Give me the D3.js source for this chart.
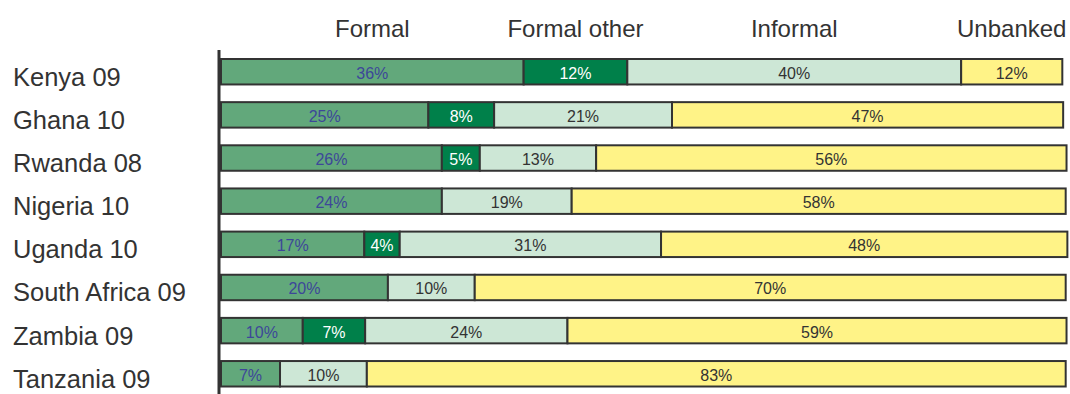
<!DOCTYPE html>
<html>
<head>
<meta charset="utf-8">
<script src="https://cdn.jsdelivr.net/npm/d3@7"></script>
<style>
  body { margin: 0; background: #fff; }
  svg { display: block; font-family: "Liberation Sans", Arial, sans-serif; }
</style>
</head>
<body>
<div id="chart"></div>
<script>
// rows, top to bottom
var countries = ["Kenya 09", "Ghana 10", "Rwanda 08", "Nigeria 10", "Uganda 10",
                 "South Africa 09", "Zambia 09", "Tanzania 09"];
var seriesNames = ["Formal", "Formal other", "Informal", "Unbanked"];

// bar lengths (% of the full bar)
var formal      = [35.9, 24.6, 26.2, 26.2, 17.0, 19.8, 9.7, 7.0];
var formalOther = [12.3, 7.8, 4.5, 0, 4.2, 0, 7.4, 0];
var informal    = [39.6, 21.1, 13.8, 15.4, 31.0, 10.3, 24.0, 10.3];
var unbanked    = [12.0, 46.4, 55.8, 58.6, 48.2, 70.1, 59.2, 82.9];

// the printed labels
var formalLbl      = ["36%", "25%", "26%", "24%", "17%", "20%", "10%", "7%"];
var formalOtherLbl = ["12%", "8%", "5%", "", "4%", "", "7%", ""];
var informalLbl    = ["40%", "21%", "13%", "19%", "31%", "10%", "24%", "10%"];
var unbankedLbl    = ["12%", "47%", "56%", "58%", "48%", "70%", "59%", "83%"];

var fills = ["#62a87b", "#00804a", "#cde7d6", "#fff387"];
var labelColors = ["#3d4799", "#ffffff", "#333333", "#333333"];

var svgWidth = 1070, svgHeight = 394;

var svg = d3.select("#chart").append("svg")
  .attr("width", svgWidth)
  .attr("height", svgHeight);

var values = [formal, formalOther, informal, unbanked];
var labels = [formalLbl, formalOtherLbl, informalLbl, unbankedLbl];

var data = countries.map(function(c, i) {
  var row = { country: c };
  seriesNames.forEach(function(s, k) { row[s] = values[k][i]; });
  return row;
});

var stacked = d3.stack().keys(seriesNames)(data);

var x = d3.scaleLinear().domain([0, 100]).range([221, 1064]);
var y = d3.scaleBand()
  .domain(countries)
  .range([59, 386.5])
  .paddingInner(0.41)
  .paddingOuter(0);

// bars
var layers = svg.append("g").selectAll("g")
  .data(stacked)
  .enter()
  .append("g")
  .attr("fill", (d, k) => fills[k]);

layers.selectAll("rect")
  .data(d => d.filter(p => p[1] - p[0] > 0))
  .enter()
  .append("rect")
  .attr("x", p => x(p[0]))
  .attr("y", p => y(p.data.country))
  .attr("width", p => x(p[1]) - x(p[0]))
  .attr("height", y.bandwidth())
  .attr("stroke", "#333")
  .attr("stroke-width", 2);

// percent labels
stacked.forEach(function(layer, k) {
  svg.append("g").selectAll("text")
    .data(layer.map((p, i) => ({ p: p, t: labels[k][i] })).filter(d => d.t !== ""))
    .enter()
    .append("text")
    .attr("x", d => x((d.p[0] + d.p[1]) / 2))
    .attr("y", d => y(d.p.data.country) + y.bandwidth() / 2 + 7)
    .attr("text-anchor", "middle")
    .attr("font-size", 16)
    .attr("fill", labelColors[k])
    .text(d => d.t);
});

// axis line
svg.append("line")
  .attr("x1", 219).attr("x2", 219)
  .attr("y1", 50).attr("y2", svgHeight)
  .attr("stroke", "#333")
  .attr("stroke-width", 3);

// row names
svg.append("g").selectAll("text")
  .data(countries)
  .enter()
  .append("text")
  .attr("x", 13)
  .attr("y", d => y(d) + y.bandwidth() / 2 + 14)
  .attr("font-size", 25.5)
  .attr("fill", "#333")
  .text(d => d);

// series headers, centred over the first row's segments
svg.append("g").selectAll("text")
  .data(stacked)
  .enter()
  .append("text")
  .attr("x", layer => x((layer[0][0] + layer[0][1]) / 2))
  .attr("y", 37)
  .attr("text-anchor", "middle")
  .attr("font-size", 24)
  .attr("fill", "#333")
  .text(layer => layer.key);
</script>
</body>
</html>
